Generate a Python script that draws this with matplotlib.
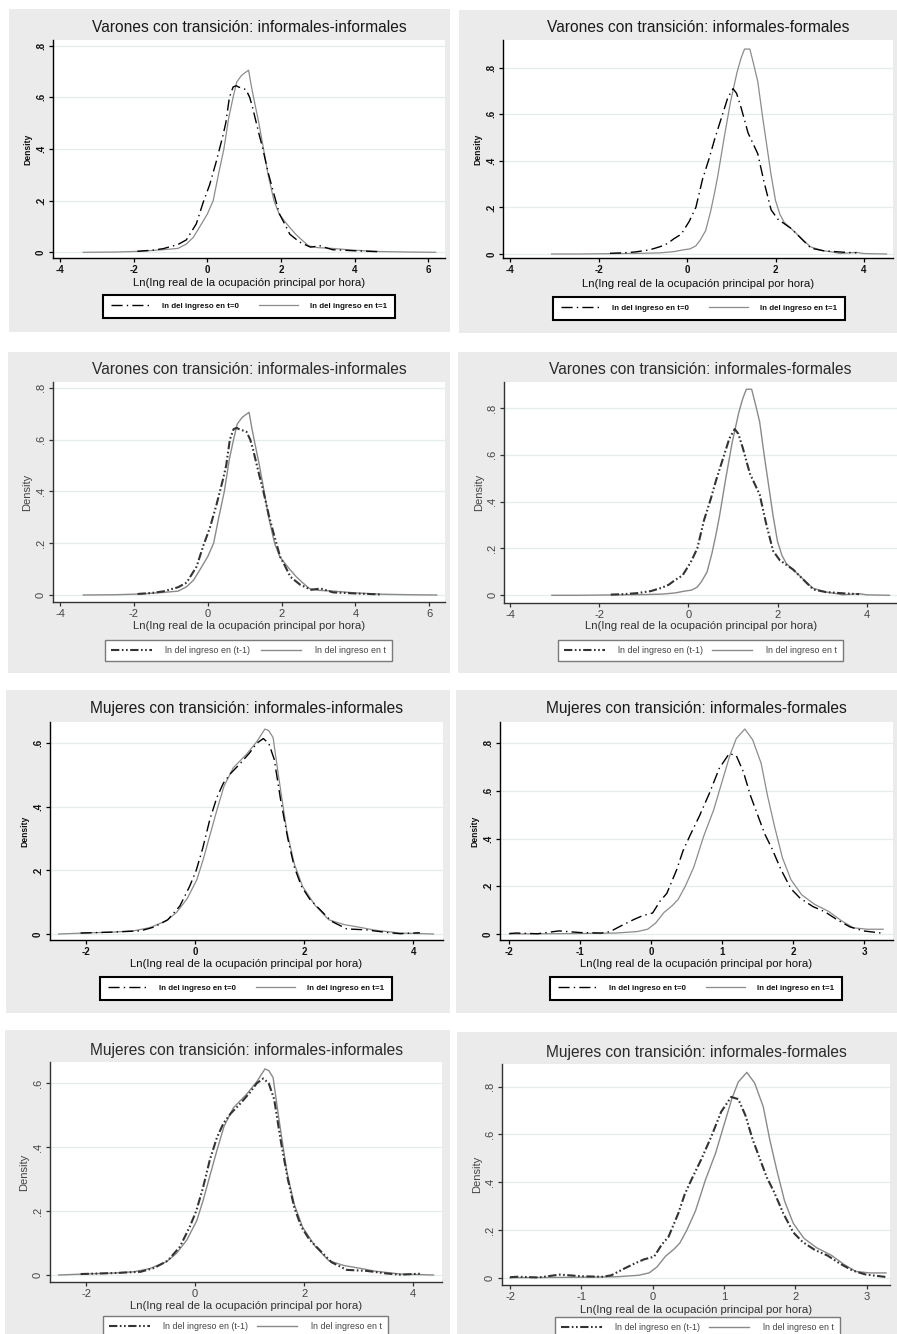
import matplotlib
matplotlib.use('Agg')
import matplotlib.pyplot as plt
from matplotlib.patches import Rectangle
from matplotlib.lines import Line2D

# ---------------- data ----------------
# Varones, informales-informales
vii_t0_x = [-1.9, -1.5, -1.2, -0.8, -0.57, -0.3, -0.12, 0.06, 0.24, 0.42, 0.5, 0.6, 0.7, 0.78, 0.85, 0.95, 1.05, 1.15, 1.23, 1.4, 1.5, 1.65, 1.78, 1.96, 2.1, 2.24, 2.5, 2.8, 3.06, 3.4, 4.0, 4.7]
vii_t0_y = [0.004, 0.008, 0.014, 0.03, 0.048, 0.11, 0.19, 0.26, 0.35, 0.45, 0.5, 0.6, 0.64, 0.645, 0.64, 0.635, 0.63, 0.6, 0.56, 0.46, 0.405, 0.31, 0.24, 0.148, 0.11, 0.07, 0.04, 0.02, 0.025, 0.01, 0.006, 0.002]
vii_t1_x = [-3.37, -2.5, -1.8, -1.2, -0.8, -0.57, -0.38, -0.2, 0.0, 0.16, 0.3, 0.45, 0.58, 0.7, 0.8, 0.93, 1.02, 1.12, 1.2, 1.27, 1.4, 1.52, 1.65, 1.81, 1.95, 2.1, 2.24, 2.4, 2.55, 2.75, 3.0, 3.4, 4.0, 4.7, 5.5, 6.2]
vii_t1_y = [0.0, 0.001, 0.004, 0.01, 0.015, 0.032, 0.058, 0.1, 0.148, 0.2, 0.3, 0.4, 0.52, 0.6, 0.66, 0.685, 0.695, 0.705, 0.64, 0.59, 0.5, 0.405, 0.3, 0.2, 0.148, 0.12, 0.096, 0.07, 0.05, 0.025, 0.018, 0.015, 0.008, 0.003, 0.001, 0.0]

# Varones, informales-formales
vif_t0_x = [-1.74, -1.44, -1.16, -0.84, -0.6, -0.44, -0.3, -0.13, 0.05, 0.2, 0.35, 0.5, 0.62, 0.77, 0.92, 1.04, 1.12, 1.22, 1.38, 1.6, 1.74, 1.9, 2.05, 2.35, 2.6, 2.8, 3.08, 3.5, 3.83]
vif_t0_y = [0.003, 0.005, 0.009, 0.018, 0.032, 0.045, 0.065, 0.085, 0.14, 0.2, 0.32, 0.41, 0.49, 0.58, 0.67, 0.71, 0.69, 0.63, 0.52, 0.43, 0.31, 0.19, 0.15, 0.11, 0.063, 0.025, 0.014, 0.008, 0.005]
vif_t1_x = [-3.06, -2.5, -2.0, -1.5, -1.0, -0.6, -0.3, -0.08, 0.07, 0.2, 0.3, 0.42, 0.53, 0.62, 0.7, 0.84, 0.98, 1.13, 1.22, 1.3, 1.42, 1.5, 1.6, 1.7, 1.8, 1.9, 2.0, 2.1, 2.2, 2.45, 2.65, 2.8, 3.08, 3.3, 3.46, 3.83, 4.0, 4.51]
vif_t1_y = [0.0, 0.0, 0.001, 0.002, 0.003, 0.005, 0.01, 0.018, 0.022, 0.035, 0.06, 0.1, 0.18, 0.26, 0.34, 0.5, 0.65, 0.78, 0.84, 0.88, 0.88, 0.82, 0.74, 0.6, 0.47, 0.34, 0.23, 0.17, 0.135, 0.092, 0.055, 0.03, 0.014, 0.008, 0.002, 0.007, 0.002, 0.0]

# Mujeres, informales-informales
mii_t0_x = [-2.1, -1.5, -1.0, -0.75, -0.5, -0.28, -0.1, 0.02, 0.14, 0.27, 0.4, 0.52, 0.65, 0.82, 1.0, 1.13, 1.25, 1.35, 1.45, 1.57, 1.7, 1.82, 1.95, 2.1, 2.3, 2.5, 2.78, 3.14, 3.5, 3.76, 4.12]
mii_t0_y = [0.003, 0.006, 0.01, 0.022, 0.045, 0.088, 0.15, 0.2, 0.27, 0.36, 0.43, 0.475, 0.505, 0.535, 0.57, 0.6, 0.615, 0.6, 0.55, 0.42, 0.3, 0.21, 0.15, 0.11, 0.075, 0.04, 0.016, 0.013, 0.005, 0.001, 0.004]
mii_t1_x = [-2.5, -2.05, -1.5, -1.13, -0.83, -0.52, -0.34, -0.15, 0.03, 0.15, 0.27, 0.4, 0.53, 0.7, 0.94, 1.13, 1.28, 1.35, 1.43, 1.53, 1.68, 1.82, 1.97, 2.2, 2.45, 2.72, 3.02, 3.3, 3.76, 4.37]
mii_t1_y = [0.0, 0.003, 0.006, 0.01, 0.02, 0.042, 0.068, 0.11, 0.17, 0.235, 0.31, 0.39, 0.465, 0.523, 0.565, 0.605, 0.645, 0.64, 0.618, 0.496, 0.325, 0.22, 0.15, 0.09, 0.045, 0.03, 0.021, 0.012, 0.003, 0.0]

# Mujeres, informales-formales
mif_t0_x = [-2.0, -1.9, -1.6, -1.3, -1.0, -0.7, -0.58, -0.4, -0.25, -0.12, 0.02, 0.13, 0.22, 0.36, 0.45, 0.55, 0.68, 0.82, 0.96, 1.1, 1.2, 1.3, 1.4, 1.5, 1.6, 1.7, 1.83, 1.97, 2.1, 2.28, 2.45, 2.62, 2.8, 2.99, 3.27]
mif_t0_y = [0.002, 0.004, 0.001, 0.013, 0.006, 0.004, 0.01, 0.038, 0.06, 0.077, 0.088, 0.14, 0.17, 0.27, 0.35, 0.415, 0.495, 0.59, 0.695, 0.757, 0.748, 0.68, 0.58, 0.5, 0.42, 0.36, 0.27, 0.19, 0.15, 0.115, 0.093, 0.06, 0.03, 0.013, 0.003]
mif_t1_x = [-2.0, -1.5, -1.0, -0.5, -0.2, -0.05, 0.06, 0.18, 0.3, 0.38, 0.48, 0.6, 0.74, 0.88, 1.0, 1.11, 1.2, 1.32, 1.43, 1.55, 1.64, 1.74, 1.85, 1.97, 2.12, 2.3, 2.5, 2.68, 2.85, 3.04, 3.27]
mif_t1_y = [0.0, 0.001, 0.002, 0.004, 0.01, 0.02, 0.045, 0.09, 0.12, 0.145, 0.2, 0.28, 0.41, 0.52, 0.64, 0.75, 0.82, 0.86, 0.815, 0.716, 0.58, 0.45, 0.32, 0.228, 0.165, 0.125, 0.095, 0.056, 0.026, 0.02, 0.02]

titles = ["Varones con transición: informales-informales",
          "Varones con transición: informales-formales",
          "Mujeres con transición: informales-informales",
          "Mujeres con transición: informales-formales"]
xlabel_text = "Ln(Ing real de la ocupación principal por hora)"
ylabel_text = "Density"
legend_old = ["ln del ingreso en t=0", "ln del ingreso en t=1"]
legend_new = ["ln del ingreso en (t-1)", "ln del ingreso en t"]
xticks_a = [-4, -2, 0, 2, 4, 6]
xticks_b = [-4, -2, 0, 2, 4]
xticks_c = [-2, 0, 2, 4]
xticks_d = [-2, -1, 0, 1, 2, 3]
yticks_8 = [0, 0.2, 0.4, 0.6, 0.8]
yticks_6 = [0, 0.2, 0.4, 0.6]

datasets = {
    'vii': (vii_t0_x, vii_t0_y, vii_t1_x, vii_t1_y),
    'vif': (vif_t0_x, vif_t0_y, vif_t1_x, vif_t1_y),
    'mii': (mii_t0_x, mii_t0_y, mii_t1_x, mii_t1_y),
    'mif': (mif_t0_x, mif_t0_y, mif_t1_x, mif_t1_y),
}

# ---------------- layout / styles ----------------
W, H = 897, 1334
BG = '#EBEBEB'
GRID = '#E4ECEE'
FONT = ['Liberation Sans', 'DejaVu Sans']
plt.rcParams['font.family'] = FONT

styles = {
    'old': dict(title_fs=11.2, title_color='#1a1a1a', tick_fs=7, tick_w='bold', tick_c='#111111',
                xl_fs=8.2, xl_w='normal', xl_c='#111111', yl_fs=6.2, yl_w='bold', yl_c='#111111',
                leg_fs=5.7, leg_w='bold', leg_c='#111111', axis_c='#000000', leg_edge='#000000', leg_lw=1.5,
                leg_pad=0.95, leg_hl=5.0,
                t0=dict(color='#000000', lw=1.0, dashes=(8, 3, 1, 3)),
                t1=dict(color='#8c8c8c', lw=0.9), labels=legend_old),
    'new': dict(title_fs=11.2, title_color='#2a2a2a', tick_fs=8, tick_w='normal', tick_c='#444444',
                xl_fs=8.2, xl_w='normal', xl_c='#333333', yl_fs=8, yl_w='normal', yl_c='#444444',
                leg_fs=6.4, leg_w='normal', leg_c='#444444', axis_c='#333333', leg_edge='#7a7a7a', leg_lw=1.0,
                leg_pad=0.7, leg_hl=4.6,
                t0=dict(color='#333333', lw=1.5, dashes=(4, 1.2, 0.8, 1.2, 0.8, 1.2)),
                t1=dict(color='#8a8a8a', lw=1.0), labels=legend_new),
}

def tick_label(v):
    if v == 0:
        return '0'
    s = ('%g' % v)
    return s.replace('0.', '.')

panels = [
    dict(data='vii', title=titles[0], style='old', xt=xticks_a, yt=yticks_8,
         bg=(9, 9, 450, 332), plot=(53, 40, 445, 258), xm=(60, -4, 428.3, 6), ym=(252.3, 0, 45.7, 0.8),
         ty=27, xly=283, ylx=28, leg=(103, 295, 395, 315)),
    dict(data='vif', title=titles[1], style='old', xt=xticks_b, yt=yticks_8,
         bg=(459, 10, 897, 333), plot=(503.3, 40, 893, 258), xm=(510, -4, 864, 4), ym=(254, 0, 67.7, 0.8),
         ty=28, xly=284, ylx=478, leg=(553, 297, 845, 317)),
    dict(data='vii', title=titles[0], style='new', xt=xticks_a, yt=yticks_8,
         bg=(8, 352, 450, 673), plot=(53, 382, 445, 602), xm=(60, -4, 429.3, 6), ym=(595, 0, 387.7, 0.8),
         ty=370, xly=626, ylx=27, leg=(105, 640, 392, 660)),
    dict(data='vif', title=titles[1], style='new', xt=xticks_b, yt=yticks_8,
         bg=(458, 352, 897, 673), plot=(504.3, 382, 897, 603), xm=(510, -4, 866.7, 4), ym=(595.3, 0, 408, 0.8),
         ty=370, xly=626, ylx=479, leg=(558, 640, 843, 661)),
    dict(data='mii', title=titles[2], style='old', xt=xticks_c, yt=yticks_6,
         bg=(6, 690, 450, 1013), plot=(50, 722, 443, 940), xm=(86, -2, 413.3, 4), ym=(934, 0, 743.3, 0.6),
         ty=708, xly=964, ylx=25, leg=(100, 977, 392, 997)),
    dict(data='mif', title=titles[3], style='old', xt=xticks_d, yt=yticks_8,
         bg=(456, 690, 897, 1013), plot=(500, 722, 893, 940), xm=(509.3, -2, 864, 3), ym=(934, 0, 743.3, 0.8),
         ty=708, xly=964, ylx=475, leg=(550, 977, 842, 997)),
    dict(data='mii', title=titles[2], style='new', xt=xticks_c, yt=yticks_6,
         bg=(5, 1030, 450, 1334), plot=(50, 1062, 442, 1282), xm=(86, -2, 413.3, 4), ym=(1275, 0, 1083.3, 0.6),
         ty=1050, xly=1306, ylx=24, leg=(103, 1316, 388, 1336)),
    dict(data='mif', title=titles[3], style='new', xt=xticks_d, yt=yticks_8,
         bg=(457, 1032, 897, 1334), plot=(502, 1064, 890, 1285), xm=(510, -2, 866.7, 3), ym=(1277.7, 0, 1086.7, 0.8),
         ty=1053, xly=1310, ylx=477, leg=(555, 1317, 840, 1337)),
]

fig = plt.figure(figsize=(W / 100, H / 100), dpi=100)
fig.patch.set_facecolor('white')

def fx(x):
    return x / W

def fy(y):
    return 1 - y / H

for p in panels:
    st = styles[p['style']]
    bx0, by0, bx1, by1 = p['bg']
    fig.add_artist(Rectangle((fx(bx0), fy(by1)), (bx1 - bx0) / W, (by1 - by0) / H,
                             transform=fig.transFigure, facecolor=BG, edgecolor='none', zorder=-5))
    x0, y0, x1, y1 = p['plot']
    ax = fig.add_axes([fx(x0), fy(y1), (x1 - x0) / W, (y1 - y0) / H])
    ax.set_facecolor('white')
    # limits from pixel mapping
    pa, va, pb, vb = p['xm']
    sx = (pb - pa) / (vb - va)
    ax.set_xlim(va + (x0 - pa) / sx, va + (x1 - pa) / sx)
    qa, wa, qb, wb = p['ym']
    sy = (qa - qb) / (wb - wa)
    ax.set_ylim(wa + (qa - y1) / sy, wa + (qa - y0) / sy)

    t0x, t0y, t1x, t1y = datasets[p['data']]
    l0, = ax.plot(t0x, t0y, color=st['t0']['color'], lw=st['t0']['lw'], zorder=3)
    l0.set_dashes(st['t0']['dashes'])
    l1, = ax.plot(t1x, t1y, color=st['t1']['color'], lw=st['t1']['lw'], zorder=2)

    ax.set_xticks(p['xt'])
    ax.set_xticklabels([tick_label(v) for v in p['xt']])
    ax.set_yticks(p['yt'])
    ax.set_yticklabels([tick_label(v) for v in p['yt']], rotation=90, va='center')
    for v in p['yt']:
        ax.axhline(v, color=GRID, lw=0.9, zorder=1)
    for s in ['top', 'right']:
        ax.spines[s].set_visible(False)
    for s in ['left', 'bottom']:
        ax.spines[s].set_color(st['axis_c'])
        ax.spines[s].set_linewidth(1.0)
    ax.tick_params(direction='out', length=3, width=0.9, color=st['axis_c'],
                   labelsize=st['tick_fs'], labelcolor=st['tick_c'])
    ax.tick_params(axis='x', pad=2)
    ax.tick_params(axis='y', pad=2)
    for lab in ax.get_xticklabels() + ax.get_yticklabels():
        lab.set_fontweight(st['tick_w'])

    cx = (x0 + x1) / 2
    cy = (y0 + y1) / 2
    fig.text(fx(cx), fy(p['ty']), p['title'], ha='center', va='center',
             fontsize=st['title_fs'], color=st['title_color'])
    fig.text(fx(cx), fy(p['xly']), xlabel_text, ha='center', va='center',
             fontsize=st['xl_fs'], color=st['xl_c'], fontweight=st['xl_w'])
    fig.text(fx(p['ylx']), fy(cy), ylabel_text, ha='center', va='center', rotation=90,
             fontsize=st['yl_fs'], color=st['yl_c'], fontweight=st['yl_w'])

    lx0, ly0, lx1, ly1 = p['leg']
    h0 = Line2D([], [], color=st['t0']['color'], lw=st['t0']['lw'])
    h0.set_dashes(st['t0']['dashes'])
    h1 = Line2D([], [], color=st['t1']['color'], lw=st['t1']['lw'])
    leg = fig.legend([h0, h1], st['labels'], loc='upper center', mode='expand', ncol=2,
                     bbox_to_anchor=(fx(lx0), fy(ly1), (lx1 - lx0) / W, (ly1 - ly0) / H),
                     bbox_transform=fig.transFigure, frameon=True, fancybox=False,
                     edgecolor=st['leg_edge'], facecolor='white', framealpha=1,
                     borderpad=st['leg_pad'], handlelength=st['leg_hl'], handletextpad=1.5,
                     borderaxespad=0,
                     prop=dict(size=st['leg_fs'], weight=st['leg_w']), labelcolor=st['leg_c'])
    leg.get_frame().set_linewidth(st['leg_lw'])

fig.savefig('out.png', dpi=100, facecolor='white')
